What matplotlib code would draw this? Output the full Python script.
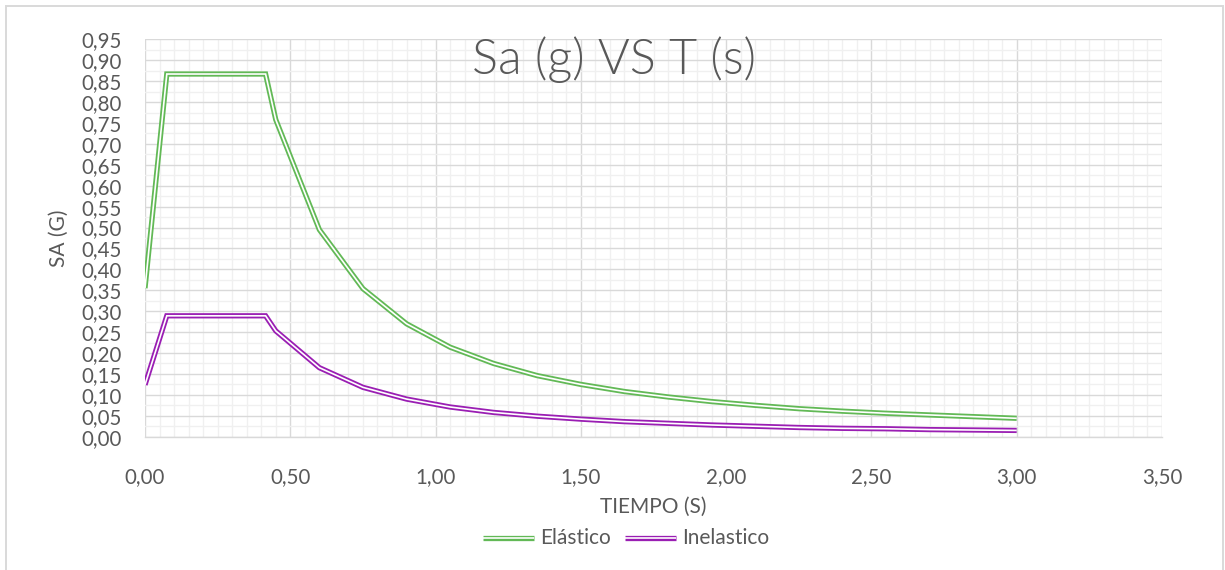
import matplotlib
matplotlib.use("Agg")
import matplotlib.pyplot as plt
from matplotlib.ticker import MultipleLocator, FuncFormatter
from matplotlib.lines import Line2D
from matplotlib.patches import Rectangle

# ---- data ----
periodo = [0.00, 0.075, 0.415, 0.45, 0.60, 0.75, 0.90, 1.05, 1.20, 1.35, 1.50,
           1.65, 1.80, 1.95, 2.10, 2.25, 2.40, 2.55, 2.70, 2.85, 3.00]
elastico = [0.355, 0.867, 0.867, 0.758, 0.495, 0.354, 0.270, 0.214, 0.175, 0.146, 0.125,
            0.108, 0.095, 0.084, 0.075, 0.067, 0.061, 0.056, 0.052, 0.048, 0.044]
inelastico = [0.124, 0.289, 0.289, 0.253, 0.165, 0.118, 0.090, 0.071, 0.058, 0.049, 0.042,
              0.036, 0.032, 0.028, 0.025, 0.022, 0.020, 0.019, 0.017, 0.016, 0.015]
series_names = ["Elástico", "Inelastico"]
title_text = "Sa (g) VS T (s)"
xlabel_text = "TIEMPO (S)"
ylabel_text = "SA (G)"

GREEN = "#62b956"
PURPLE = "#9a1eb3"
TXT = "#595959"
FONT = "Lato"

W, H = 1225, 570
fig = plt.figure(figsize=(W / 100, H / 100), dpi=100)
fig.patch.set_facecolor("white")

# chart border
fig.patches.append(Rectangle((5.5 / W, -0.02), (1223 - 5.5) / W, 1.02 - 5.7 / H,
                             transform=fig.transFigure, fill=False,
                             edgecolor="#d9d9d9", linewidth=1.4, zorder=0))

left, right, top, bottom = 145 / W, 1162 / W, 1 - 39.3 / H, 1 - 436.7 / H
ax = fig.add_axes([left, bottom, right - left, top - bottom])
ax.set_xlim(0, 3.5)
ax.set_ylim(0, 0.95)

ax.xaxis.set_major_locator(MultipleLocator(0.5))
ax.xaxis.set_minor_locator(MultipleLocator(0.05))
ax.yaxis.set_major_locator(MultipleLocator(0.05))
ax.yaxis.set_minor_locator(MultipleLocator(0.025))
ax.grid(which="major", color="#d9d9d9", linewidth=1.0, zorder=0)
ax.grid(which="minor", color="#f0f0f0", linewidth=1.0, zorder=0)
ax.set_axisbelow(True)
for s in ax.spines.values():
    s.set_visible(False)
ax.spines["bottom"].set_visible(True)
ax.spines["bottom"].set_color("#d9d9d9")
ax.spines["bottom"].set_linewidth(1.0)

fmt = FuncFormatter(lambda v, p: f"{v:.2f}".replace(".", ","))
ax.xaxis.set_major_formatter(fmt)
ax.yaxis.set_major_formatter(fmt)
ax.tick_params(which="both", length=0)
ax.tick_params(axis="x", pad=22, labelsize=14.8, labelcolor=TXT)
ax.tick_params(axis="y", pad=17, labelsize=14.8, labelcolor=TXT)
for lab in ax.get_xticklabels() + ax.get_yticklabels():
    lab.set_fontfamily(FONT)

outer_lw, inner_lw = 3.8, 1.2
for ys, col in ((elastico, GREEN), (inelastico, PURPLE)):
    ax.plot(periodo, ys, color=col, linewidth=outer_lw, solid_joinstyle="miter",
            solid_capstyle="butt", zorder=3)
    ax.plot(periodo, ys, color="white", linewidth=inner_lw, solid_joinstyle="miter",
            solid_capstyle="butt", zorder=4)

# title (overlaid on plot area)
fig.text(614 / W, 1 - 60 / H, title_text, ha="center", va="center",
         fontsize=35, color=TXT, fontfamily=FONT, fontweight=300)

# axis titles
fig.text(59 / W, 1 - 238 / H, ylabel_text, rotation=90, ha="center", va="center",
         fontsize=15, color=TXT, fontfamily=FONT)
fig.text(653.5 / W, 1 - 507 / H, xlabel_text, ha="center", va="center",
         fontsize=15, color=TXT, fontfamily=FONT)

# legend drawn manually with double lines
ly = 1 - 537.5 / H
for (x0, x1, tx), col, name in (((483, 534, 540), GREEN, series_names[0]),
                                ((625, 676, 682), PURPLE, series_names[1])):
    fig.add_artist(Line2D([x0 / W, x1 / W], [ly, ly], transform=fig.transFigure,
                          color=col, linewidth=outer_lw, solid_capstyle="butt"))
    fig.add_artist(Line2D([x0 / W, x1 / W], [ly, ly], transform=fig.transFigure,
                          color="white", linewidth=inner_lw, solid_capstyle="butt"))
    fig.text(tx / W, ly, name, ha="left", va="center", fontsize=15, color=TXT,
             fontfamily=FONT)

fig.savefig("out.png", dpi=100, facecolor="white")
